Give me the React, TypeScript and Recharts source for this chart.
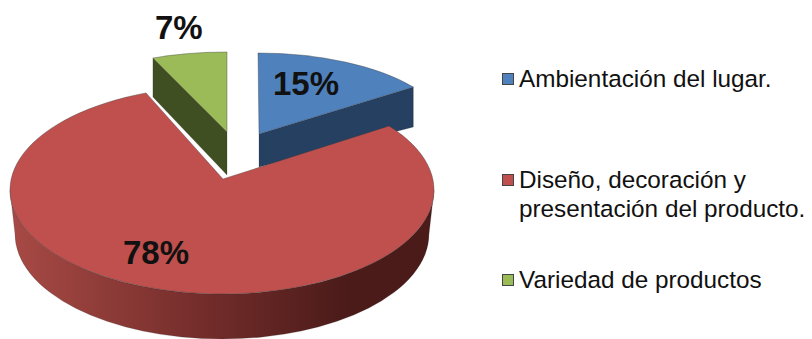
import { Legend, Pie, PieChart } from 'recharts';

const categories = ['Ambientación del lugar.', 'Diseño, decoración y presentación del producto.', 'Variedad de productos'];
const values = [15, 78, 7];
const topColors = ['#4F81BD', '#C0504D', '#9BBB59'];
const wallColors = ['#254061', 'url(#redWall)', '#3F4F21'];

const data = categories.map((name, i) => ({ name, value: values[i], fill: topColors[i] }));

// Hand-tuned projection of each exploded slice: ellipse of the rim, apex of the wedge,
// wall heights, and a small perspective nudge on the rim angles.
const slices = [
    { ex: 258, ey: 135.5, rx: 192, ry: 82.5, ax: 259, ay: 134, apexDepth: 33, rimDepth: 40, wall: 'end', nudge: [0, 0], label: [273, 95] },
    { ex: 222, ey: 190, rx: 212, ry: 104, ax: 223, ay: 179, apexDepth: 44, rimDepth: 44, wall: 'outer', nudge: [-2, 4.2], label: [123, 264] },
    { ex: 227, ey: 115, rx: 174, ry: 63, ax: 227, ay: 132, apexDepth: 43, rimDepth: 39, wall: 'start', nudge: [0, 0], label: [155, 39] },
];

const legendRows = [
    { swatchTop: 73, textTop: 64 },
    { swatchTop: 174, textTop: 165 },
    { swatchTop: 274, textTop: 265 },
];

const rimPoint = (s: any, deg: number) => {
    const a = (deg * Math.PI) / 180;
    return [s.ex + s.rx * Math.sin(a), s.ey - s.ry * Math.cos(a)];
};

function Slice3D(props: any) {
    const i = props.index ?? categories.indexOf(props.name);
    const s = slices[i];
    // recharts angles run counter-clockwise from 3 o'clock; here they run clockwise from 12
    const from = 90 - props.startAngle + s.nudge[0];
    const to = 90 - props.endAngle + s.nudge[1];
    const [x0, y0] = rimPoint(s, from);
    const [x1, y1] = rimPoint(s, to);
    const large = to - from > 180 ? 1 : 0;
    const top = `M${s.ax},${s.ay} L${x0},${y0} A${s.rx},${s.ry} 0 ${large} 1 ${x1},${y1} Z`;

    let wall = '';
    if (s.wall === 'end') {
        wall = `M${s.ax},${s.ay} L${x1},${y1} L${x1},${y1 + s.rimDepth} L${s.ax},${s.ay + s.apexDepth} Z`;
    } else if (s.wall === 'start') {
        wall = `M${s.ax},${s.ay} L${x0},${y0} L${x0},${y0 + s.rimDepth} L${s.ax},${s.ay + s.apexDepth} Z`;
    } else {
        // outer rim of the big slice: lower ellipse is a little narrower
        const bottomRx = s.rx - 5;
        const bottomRy = s.ry + 1;
        const by = s.ey + s.rimDepth;
        wall = `M${s.ex - s.rx},${s.ey} A${s.rx},${s.ry} 0 0 0 ${s.ex + s.rx},${s.ey} L${s.ex + bottomRx},${by} A${bottomRx},${bottomRy} 0 0 1 ${s.ex - bottomRx},${by} Z`;
    }

    return (
        <g>
            <defs>
                <linearGradient id="redWall" x1="0" y1="0" x2="1" y2="0">
                    <stop offset="0%" stopColor="#A84A45" />
                    <stop offset="45%" stopColor="#742D2B" />
                    <stop offset="80%" stopColor="#4A1B19" />
                    <stop offset="100%" stopColor="#4A1B19" />
                </linearGradient>
            </defs>
            <path d={wall} fill={wallColors[i]} stroke="#2b2b2b" strokeOpacity={0.35} strokeWidth={0.6} />
            <path d={top} fill={topColors[i]} stroke="#3a3a3a" strokeOpacity={0.55} strokeWidth={0.7} />
        </g>
    );
}

const renderLabel = (props: any) => {
    const [x, y] = slices[props.index].label;
    return (
        <text x={x} y={y} fontFamily="Liberation Sans" fontWeight="bold" fontSize={33} fill="#111">
            {props.value}%
        </text>
    );
};

const renderLegend = () => (
    <div style={{ position: 'absolute', left: 0, top: 0, width: 812, height: 339, fontFamily: 'Liberation Sans', fontSize: 24.3, lineHeight: '29px', color: '#111' }}>
        {categories.map((name, i) => (
            <div key={name}>
                <div style={{ position: 'absolute', left: 502, top: legendRows[i].swatchTop, width: 10, height: 10, background: topColors[i], border: '1.5px solid #444' }} />
                <div style={{ position: 'absolute', left: 519, top: legendRows[i].textTop, width: 292 }}>{name}</div>
            </div>
        ))}
    </div>
);

export default function App() {
    return (
        <div style={{ position: 'absolute', left: 0, top: 0, width: 812, height: 339, background: '#fff', overflow: 'hidden' }}>
            <PieChart width={812} height={339} margin={{ top: 0, right: 0, bottom: 0, left: 0 }}>
                <Pie
                    data={data}
                    dataKey="value"
                    nameKey="name"
                    cx={222}
                    cy={179}
                    outerRadius={212}
                    startAngle={90}
                    endAngle={-270}
                    shape={Slice3D}
                    label={renderLabel}
                    labelLine={false}
                    isAnimationActive={false}
                />
                <Legend content={renderLegend} wrapperStyle={{ position: 'absolute', left: 0, top: 0, width: 812, height: 339 }} />
            </PieChart>
        </div>
    );
}
